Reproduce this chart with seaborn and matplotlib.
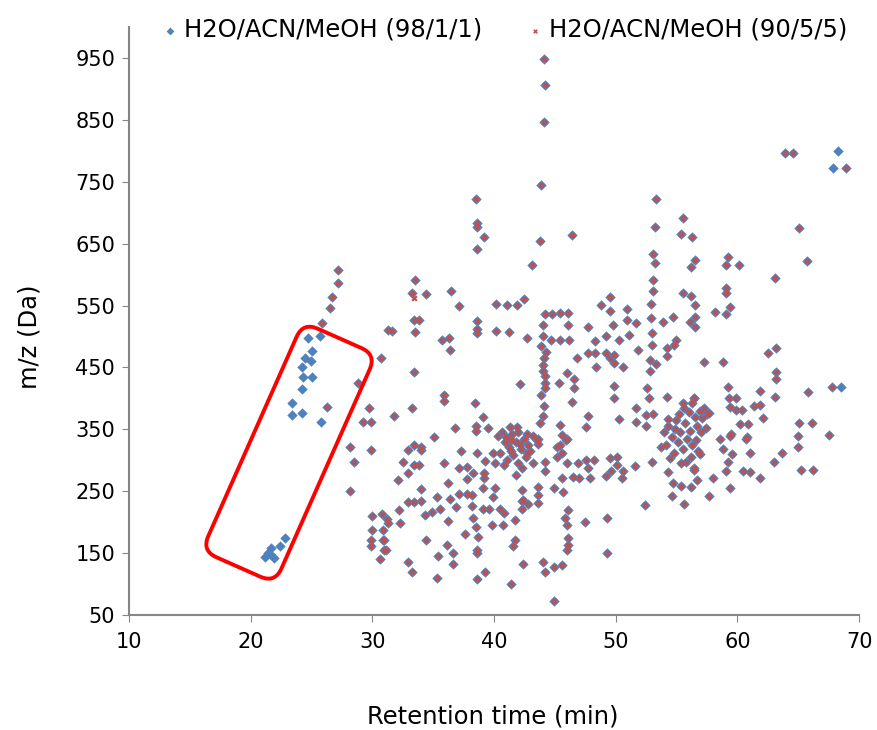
import numpy as np
import pandas as pd
import matplotlib
matplotlib.use("Agg")
import matplotlib.pyplot as plt
import seaborn as sns
from matplotlib.patches import FancyBboxPatch
from matplotlib.transforms import Affine2D

# points found in both runs (retention time, m/z)
both_rt = [
    27.2, 27.2, 26.65, 26.5, 25.9, 31.3, 30.7, 28.8, 26.3, 29.7, 29.2, 29.9, 28.2, 29.9, 28.5, 28.2,
    30.0, 30.8, 31.2, 30.0, 30.9, 29.9, 30.9, 29.9, 31.1, 30.6, 33.5, 33.3, 34.4, 36.5, 37.1, 40.2,
    41.1, 41.9, 42.5, 33.4, 33.85, 31.6, 33.5, 38.6, 38.6, 38.6, 40.2, 41.2, 42.7, 35.7, 36.3, 36.4,
    33.4, 42.1, 35.9, 35.9, 38.4, 33.3, 31.8, 39.1, 36.8, 38.5, 38.5, 39.5, 41.3, 41.9, 35.1, 33.4,
    34.0, 41.4, 43.5, 32.9, 34.0, 32.5, 33.4, 33.8, 32.9, 32.1, 35.9, 37.3, 38.6, 39.9, 40.5, 39.25,
    40.1, 40.8, 37.1, 37.8, 38.3, 39.2, 37.8, 39.2, 36.2, 39.1, 40.1, 34.0, 35.3, 36.4, 37.1, 37.75,
    38.2, 39.9, 32.9, 33.4, 34.0, 32.2, 34.3, 34.9, 35.6, 36.9, 38.2, 38.3, 39.1, 39.6, 40.5, 40.8,
    39.8, 40.75, 41.7, 38.5, 31.3, 32.3, 36.2, 31.0, 31.0, 34.4, 37.6, 38.7, 36.15, 38.6, 38.6, 36.6,
    35.4, 41.7, 41.6, 32.95, 33.3, 36.6, 35.3, 38.6, 39.25, 41.4, 42.4, 42.3, 42.3, 42.3, 42.8, 41.85,
    53.1, 53.1, 49.5, 48.8, 49.5, 50.9, 50.9, 51.7, 52.9, 52.9, 53.85, 54.7, 55.55, 56.2, 56.5, 56.5,
    56.1, 56.5, 44.2, 44.8, 45.4, 46.1, 44.0, 46.1, 44.7, 45.4, 46.2, 44.3, 47.75, 48.3, 49.2, 49.8,
    50.3, 51.1, 51.85, 47.75, 48.3, 49.2, 49.5, 49.9, 49.9, 50.6, 46.8, 48.4, 52.95, 52.95, 52.8, 53.3,
    52.8, 54.2, 54.8, 55.0, 54.2, 44.0, 44.2, 44.2, 45.35, 46.0, 46.6, 46.6, 46.4, 49.85, 49.85, 52.6,
    52.7, 54.2, 55.55, 56.4, 51.7, 52.5, 53.1, 51.7, 50.3, 52.5, 47.75, 47.6, 45.4, 45.6, 46.0, 43.6,
    43.6, 42.7, 45.2, 54.3, 54.1, 45.4, 45.9, 45.55, 45.2, 42.7, 43.2, 44.2, 44.2, 46.0, 46.9, 47.6,
    48.2, 47.75, 46.5, 45.55, 47.0, 47.9, 49.5, 50.1, 50.1, 49.65, 49.2, 50.6, 50.5, 51.6, 52.95, 44.9,
    45.7, 43.6, 43.6, 43.6, 42.4, 46.1, 45.8, 46.0, 46.1, 46.1, 46.0, 47.5, 49.3, 49.3, 52.4, 44.0,
    44.2, 44.9, 45.6, 44.9, 53.75, 54.45, 54.3, 54.7, 55.4, 56.2, 54.6, 55.6, 56.4, 63.1, 59.1, 59.1,
    58.15, 59.4, 59.1, 63.2, 62.5, 57.25, 58.8, 63.2, 63.2, 63.1, 61.85, 59.2, 59.3, 59.9, 59.4, 59.9,
    60.4, 61.4, 61.9, 62.1, 60.9, 60.2, 59.5, 58.6, 60.8, 65.8, 67.8, 65.1, 66.1, 65.0, 67.5, 56.4,
    57.7, 65.0, 63.7, 63.0, 65.2, 66.2, 60.75, 59.4, 58.8, 59.6, 61.0, 59.25, 59.05, 60.5, 61.0, 61.85,
    58.0, 59.4, 57.7, 56.7, 56.4, 56.9, 44.1, 44.2, 44.1, 43.9, 38.5, 38.6, 38.6, 39.2, 38.6, 43.8,
    46.4, 43.1, 63.9, 64.6, 68.9, 53.3, 55.55, 53.2, 55.4, 56.3, 65.05, 53.1, 53.2, 56.5, 56.2, 59.25,
    59.05, 60.1, 65.7,
    40.3, 40.7, 41.0, 41.2, 41.5, 41.8, 42.0, 42.2, 42.5, 42.8, 41.1, 41.6, 42.0, 42.3, 42.6, 43.0,
    43.2, 40.9, 41.4, 42.1,
    54.0, 54.3, 54.6, 54.9, 55.1, 55.3, 55.5, 55.7, 55.9, 56.1, 56.3, 56.5, 56.7, 56.9, 57.1, 57.3,
    57.5, 55.2, 55.6, 56.0, 56.2, 55.8, 56.6, 54.8, 55.4, 57.0, 56.8, 57.4, 56.3, 55.0,
    44.0, 43.9, 44.1, 44.0, 44.2, 43.9, 44.1, 44.0, 43.8,
]
both_mz = [
    608, 587, 564, 546, 521, 510, 466, 425, 386, 385, 362, 362, 322, 317, 298, 251,
    210, 213, 205, 188, 188, 172, 171, 162, 155, 140, 592, 570, 568, 574, 550, 552,
    551, 551, 560, 527, 527, 509, 508, 525, 512, 505, 509, 508, 498, 494, 497, 478,
    442, 423, 405, 395, 393, 385, 372, 370, 352, 355, 348, 352, 354, 354, 338, 325,
    322, 333, 333, 317, 317, 298, 292, 292, 280, 268, 295, 315, 312, 311, 311, 299,
    296, 292, 288, 289, 280, 279, 269, 272, 263, 255, 256, 253, 241, 238, 245, 245,
    244, 241, 232, 233, 234, 220, 212, 217, 222, 225, 226, 206, 221, 222, 222, 215,
    195, 195, 203, 193, 199, 199, 202, 171, 155, 172, 181, 176, 163, 155, 150, 150,
    145, 172, 162, 135, 119, 132, 110, 109, 120, 100, 132, 252, 234, 222, 229, 276,
    591, 573, 564, 551, 541, 544, 527, 522, 552, 530, 524, 532, 571, 565, 551, 532,
    524, 516, 537, 537, 538, 538, 518, 518, 494, 494, 495, 475, 516, 493, 500, 518,
    494, 502, 478, 474, 474, 474, 466, 470, 457, 451, 466, 450, 505, 487, 462, 455,
    445, 481, 486, 495, 468, 454, 436, 416, 425, 441, 432, 416, 394, 420, 400, 416,
    400, 403, 392, 400, 385, 373, 375, 362, 367, 355, 371, 354, 357, 341, 335, 335,
    327, 343, 322, 367, 325, 325, 333, 311, 305, 311, 295, 298, 282, 296, 295, 300,
    300, 287, 273, 271, 271, 271, 303, 306, 293, 282, 274, 282, 271, 291, 298, 255,
    249, 257, 244, 231, 236, 220, 207, 195, 174, 163, 155, 200, 206, 150, 228, 136,
    120, 128, 131, 73, 322, 303, 281, 264, 258, 257, 242, 229, 288, 595, 578, 570,
    539, 547, 537, 482, 473, 459, 458, 443, 431, 403, 412, 419, 401, 401, 386, 382,
    382, 388, 389, 368, 359, 359, 343, 335, 337, 410, 419, 360, 360, 339, 341, 400,
    376, 321, 312, 298, 285, 285, 335, 339, 318, 310, 312, 297, 283, 283, 281, 271,
    271, 256, 242, 268, 284, 310, 949, 907, 846, 744, 722, 683, 677, 661, 642, 655,
    664, 615, 797, 797, 772, 722, 692, 677, 666, 660, 676, 634, 619, 623, 612, 628,
    616, 616, 622,
    340, 346, 338, 322, 343, 330, 345, 318, 335, 325, 300, 308, 296, 288, 305, 315,
    340, 330, 315, 327,
    345, 355, 338, 350, 330, 345, 318, 360, 335, 348, 325, 370, 355, 380, 368, 385,
    375, 375, 385, 378, 305, 298, 332, 312, 295, 345, 315, 352, 392, 365,
    500, 485, 465, 445, 425, 405, 388, 372, 360,
]

# points only in the 98/1/1 run
only98_rt = [24.7, 25.7, 25.05, 24.5, 25.0, 24.2, 24.3, 25.05, 24.2, 23.4, 23.4, 24.2, 25.8,
             22.8, 22.4, 21.7, 21.4, 21.9, 21.2, 21.6, 68.3, 67.9, 68.5]
only98_mz = [498, 501, 476, 465, 460, 451, 435, 435, 415, 392, 373, 377, 362,
             175, 161, 158, 150, 142, 143, 148, 800, 773, 419]

# points only in the 90/5/5 run
only90_rt = [33.4]
only90_mz = [562]

s98 = pd.DataFrame({"rt": both_rt + only98_rt, "mz": both_mz + only98_mz})
s90 = pd.DataFrame({"rt": both_rt + only90_rt, "mz": both_mz + only90_mz})

sns.set_style("white")
plt.rcParams['font.family'] = ['DejaVu Sans']
plt.rcParams['text.color'] = 'black'
plt.rcParams['axes.labelcolor'] = 'black'
plt.rcParams['xtick.labelcolor'] = 'black'
plt.rcParams['ytick.labelcolor'] = 'black'

fig = plt.figure(figsize=(8.77, 7.30), dpi=100)
ax = fig.add_axes([0.147, 0.1575, 0.8325, 0.8055])

sns.scatterplot(data=s98, x="rt", y="mz", marker="D", s=28, color="#4F81BD",
                linewidth=0, label="H2O/ACN/MeOH (98/1/1)", ax=ax, zorder=3)
sns.scatterplot(data=s90, x="rt", y="mz", marker="X", s=20, color="#C0504D",
                linewidth=0, label="H2O/ACN/MeOH (90/5/5)", ax=ax, zorder=4)

ax.set_xlim(10, 70)
ax.set_ylim(50, 1000)
ax.set_xticks(range(10, 71, 10))
ax.set_yticks(range(50, 951, 100))
ax.tick_params(axis="both", labelsize=15, length=5, color="#868686", direction="out",
               left=True, bottom=True)
ax.tick_params(axis="x", pad=7)
ax.tick_params(axis="y", pad=5)
for side in ["top", "right"]:
    ax.spines[side].set_visible(False)
for side in ["left", "bottom"]:
    ax.spines[side].set_color("#868686")
    ax.spines[side].set_linewidth(1.5)

ax.set_xlabel("Retention time (min)", fontsize=17.5, va="center")
ax.set_ylabel("m/z (Da)", fontsize=17.5, va="center")
ax.xaxis.set_label_coords(0.499, -0.172)
ax.yaxis.set_label_coords(-0.136, 0.474)

ax.legend(loc="center", bbox_to_anchor=(0.512, 0.995), ncol=2, frameon=False,
          fontsize=17.5, handlelength=1.0, handletextpad=0.05, columnspacing=1.7,
          markerscale=0.75, borderaxespad=0)

# red rounded box around the 98/1/1-only points (pixel coords, y up)
W, H = 877, 730
cx, cy = 289, 730 - 452.7
box = FancyBboxPatch((cx - 125, cy - 40), 250, 80,
                     boxstyle="round,pad=0,rounding_size=16",
                     fill=False, edgecolor="#FF0000", linewidth=2.8)
box.set_transform(Affine2D().rotate_deg_around(cx, cy, 66.1).scale(1 / W, 1 / H) + fig.transFigure)
fig.add_artist(box)

fig.savefig("out.png", dpi=100)
